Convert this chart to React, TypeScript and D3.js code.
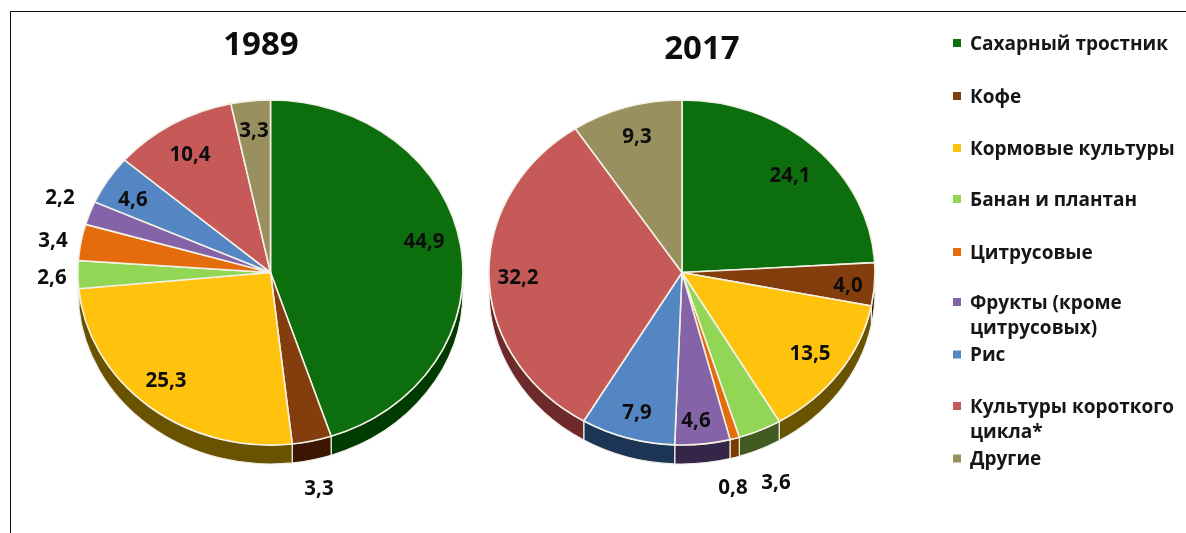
import React from "react";
import * as d3 from "d3";

const categories = ["Сахарный тростник", "Кофе", "Кормовые культуры", "Банан и плантан", "Цитрусовые", "Фрукты (кроме цитрусовых)", "Рис", "Культуры короткого цикла*", "Другие"];
const values1989 = [44.9, 3.3, 25.3, 2.6, 3.4, 2.2, 4.6, 10.4, 3.3];
const values2017 = [24.1, 4.0, 13.5, 3.6, 0.8, 4.6, 7.9, 32.2, 9.3];
const colors = ["#0d6e0f", "#843c0c", "#ffc30b", "#92d655", "#e46c0a", "#8464a8", "#5586c4", "#c55a58", "#9a8f5e"];
const wallColors = ["#063a06", "#3a1505", "#6b5200", "#3f5a22", "#7a3a05", "#35264a", "#1d3555", "#6e2a2c", "#4a4428"];

const legendLines = [["Сахарный тростник"], ["Кофе"], ["Кормовые культуры"], ["Банан и плантан"], ["Цитрусовые"], ["Фрукты (кроме", "цитрусовых)"], ["Рис"], ["Культуры короткого", "цикла*"], ["Другие"]];
const legendY = [43, 96, 148, 199, 252, 302, 354.5, 406, 458.5];
const labelPos1989: [number, number][] = [[424, 241], [319, 488], [166, 380], [52, 277], [53, 240], [60, 197], [133, 199], [190, 154], [254, 130]];
const labelPos2017: [number, number][] = [[790, 175], [848, 285], [810, 353], [776, 482], [733, 487], [696, 420], [637, 412], [518, 277], [637, 136]];

const FONT = "'Open Sans', 'Noto Sans', sans-serif";
const depth = 19;

function Pie3D({ values, cx, cy, rx, ry, title, titleX, titleY, labels }: any) {
  const arcs = d3.pie<number>().sort(null).value((d) => d)(values);
  const unitArc = d3.arc<any>().innerRadius(0).outerRadius(1);
  const pt = (a: number, dy = 0): [number, number] => [cx + rx * Math.sin(a), cy - ry * Math.cos(a) + dy];
  const wall = (a0: number, a1: number) => {
    const s = Math.max(a0, Math.PI / 2), e = Math.min(a1, (3 * Math.PI) / 2);
    if (e <= s) return null;
    const [x0, y0] = pt(s), [x1, y1] = pt(e), [x2, y2] = pt(e, depth), [x3, y3] = pt(s, depth);
    return `M${x0},${y0}A${rx},${ry} 0 0 1 ${x1},${y1}L${x2},${y2}A${rx},${ry} 0 0 0 ${x3},${y3}Z`;
  };
  return (
    <g>
      {arcs.map((a, i) => {
        const w = wall(a.startAngle, a.endAngle);
        return w ? <path key={i} d={w} fill={wallColors[i]} stroke="#f0efe8" strokeWidth={1.2} /> : null;
      })}
      <g transform={`translate(${cx},${cy}) scale(${rx},${ry})`}>
        {arcs.map((a, i) => (
          <path key={i} d={unitArc(a) as string} fill={colors[i]} stroke="#f3f1e6" strokeWidth={1.6} vectorEffect="non-scaling-stroke" />
        ))}
      </g>
      <text x={titleX} y={titleY} textAnchor="middle" fontSize={33} fontWeight={700} fill="#111" style={{ fontFamily: FONT }}>{title}</text>
      {values.map((v: number, i: number) => (
        <text key={i} x={labels[i][0]} y={labels[i][1]} dy="0.36em" textAnchor="middle" fontSize={20.5} fontWeight={700} fill="#101010" style={{ fontFamily: FONT }}>
          {d3.format(".1f")(v).replace(".", ",")}
        </text>
      ))}
    </g>
  );
}

export default function App() {
  return (
    <svg width={1186} height={533} style={{ position: "absolute", left: 0, top: 0, display: "block", background: "#fff" }}>
      <defs>
        <filter id="soft" x="0" y="0" width="100%" height="100%">
          <feGaussianBlur stdDeviation="0.55" />
        </filter>
      </defs>
      <g filter="url(#soft)">
        <path d="M1186,11H10V533" fill="none" stroke="#111" strokeWidth={2} />
        <Pie3D values={values1989} cx={270.5} cy={272.5} rx={192.5} ry={172.5} title="1989" titleX={261} titleY={55} labels={labelPos1989} />
        <Pie3D values={values2017} cx={682} cy={272.5} rx={193} ry={172.5} title="2017" titleX={702} titleY={59} labels={labelPos2017} />
        {categories.map((c, i) => (
          <g key={c}>
            <rect x={953} y={legendY[i] - 4} width={8} height={8} fill={colors[i]} />
            {legendLines[i].map((ln, j) => (
              <text key={j} x={970} y={legendY[i] + j * 25.5} dy="0.36em" fontSize={19} fontWeight={700} fill="#151515" style={{ fontFamily: FONT }}>{ln}</text>
            ))}
          </g>
        ))}
      </g>
    </svg>
  );
}
